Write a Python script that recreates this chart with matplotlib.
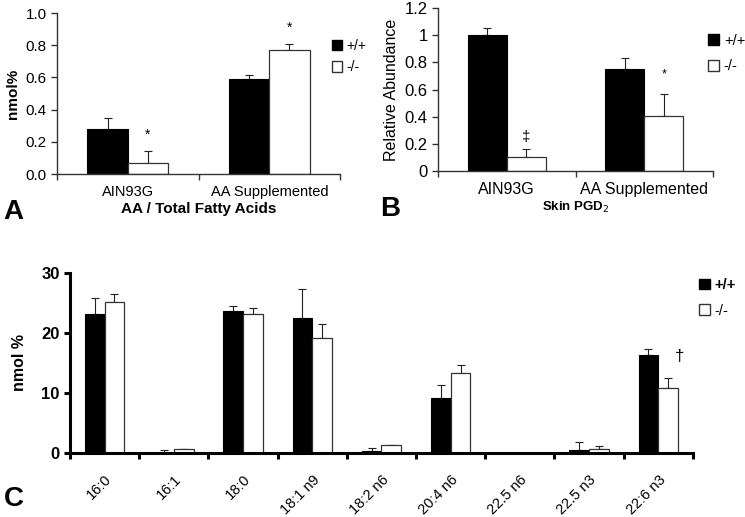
import matplotlib
matplotlib.use("Agg")
import matplotlib.pyplot as plt
import numpy as np
from matplotlib.patches import Patch

plt.rcParams['font.family'] = ['Liberation Sans', 'DejaVu Sans']

# panel A: AA / total fatty acids
a_cats = ["AIN93G", "AA Supplemented"]
a_wt = [0.28, 0.59]
a_wt_err = [0.065, 0.025]
a_ko = [0.07, 0.77]
a_ko_err = [0.07, 0.035]

# panel B: skin PGD2
b_cats = ["AIN93G", "AA Supplemented"]
b_wt = [1.0, 0.75]
b_wt_err = [0.055, 0.08]
b_ko = [0.10, 0.405]
b_ko_err = [0.06, 0.16]

# panel C: fatty acid profile
c_cats = ["16:0", "16:1", "18:0", "18:1 n9", "18:2 n6", "20:4 n6", "22.5 n6", "22.5 n3", "22:6 n3"]
c_wt = [23.2, 0.0, 23.6, 22.5, 0.4, 9.1, 0.0, 0.55, 16.3]
c_wt_err = [2.6, 0.5, 0.9, 4.8, 0.4, 2.2, 0.0, 1.25, 1.0]
c_ko = [25.1, 0.6, 23.2, 19.2, 1.3, 13.3, 0.0, 0.6, 10.8]
c_ko_err = [1.4, 0.0, 1.0, 2.3, 0.0, 1.3, 0.0, 0.55, 1.75]

W = 0.285

fig = plt.figure(figsize=(7.45, 5.17), dpi=100)


def bars(ax, wt, wterr, ko, koerr, lw_axis, col_axis):
    x = np.arange(len(wt))
    ax.bar(x - W / 2, wt, W, color='black', edgecolor='black', linewidth=0.8, zorder=2)
    ax.bar(x + W / 2, ko, W, color='white', edgecolor='#333333', linewidth=0.9, zorder=2)
    z = np.zeros(len(wt))
    ax.errorbar(x - W / 2, wt, yerr=[z, wterr], fmt='none', ecolor='#222222',
                elinewidth=0.8, capsize=3, capthick=0.8, zorder=1)
    ax.errorbar(x + W / 2, ko, yerr=[z, koerr], fmt='none', ecolor='#222222',
                elinewidth=0.8, capsize=3, capthick=0.8, zorder=1)
    ax.set_xlim(-0.5, len(wt) - 0.5)
    for s in ['top', 'right']:
        ax.spines[s].set_visible(False)
    for s in ['left', 'bottom']:
        ax.spines[s].set_linewidth(lw_axis)
        ax.spines[s].set_color(col_axis)
    ax.set_xticks(np.arange(len(wt) + 1) - 0.5, minor=True)
    ax.tick_params(axis='x', which='major', length=0, pad=8)
    ax.tick_params(axis='x', which='minor', length=4, width=lw_axis, color=col_axis)
    ax.tick_params(axis='y', length=4, width=lw_axis, color=col_axis)
    return x


def legend(ax, x, y, size, spacing, bold=False):
    h = [Patch(facecolor='black', edgecolor='black', label='+/+'),
         Patch(facecolor='white', edgecolor='#333333', label='-/-')]
    leg = ax.legend(handles=h, loc='upper left', bbox_to_anchor=(x, y), bbox_transform=fig.transFigure,
                    frameon=False, borderpad=0, borderaxespad=0, handlelength=0.75, handleheight=0.75,
                    handletextpad=0.3, labelspacing=spacing, prop={'size': size})
    if bold:
        leg.get_texts()[0].set_fontweight('bold')


# A
axA = fig.add_axes([0.0765, 0.6634, 0.380, 0.3114])
x = bars(axA, a_wt, a_wt_err, a_ko, a_ko_err, 1.0, '#333333')
axA.set_ylim(0, 1.0)
axA.set_yticks(np.arange(0, 1.01, 0.2))
axA.set_yticklabels([f"{v:.1f}" for v in np.arange(0, 1.01, 0.2)], fontsize=11)
axA.set_xticks(x)
axA.set_xticklabels(a_cats, fontsize=10.5)
axA.set_ylabel("nmol%", fontsize=11, fontweight='bold', labelpad=4)
axA.set_xlabel("AA / Total Fatty Acids", fontsize=11, fontweight='bold', labelpad=2)
axA.text(x[0] + W / 2, a_ko[0] + a_ko_err[0] + 0.06, "*", ha='center', va='bottom', fontsize=10)
axA.text(x[1] + W / 2, a_ko[1] + a_ko_err[1] + 0.06, "*", ha='center', va='bottom', fontsize=10)
legend(axA, 0.445, 0.925, 10, 0.55)
fig.text(0.005, 0.565, "A", fontsize=20, fontweight='bold', va='bottom')

# B
axB = fig.add_axes([0.588, 0.6692, 0.369, 0.3153])
x = bars(axB, b_wt, b_wt_err, b_ko, b_ko_err, 1.0, '#333333')
axB.set_ylim(0, 1.2)
axB.set_yticks(np.arange(0, 1.21, 0.2))
axB.set_yticklabels(["0", "0.2", "0.4", "0.6", "0.8", "1", "1.2"], fontsize=12)
axB.set_xticks(x)
axB.set_xticklabels(b_cats, fontsize=11.5)
axB.set_ylabel("Relative Abundance", fontsize=11.5, labelpad=4)
axB.set_xlabel("Skin PGD$_2$", fontsize=9.5, fontweight='bold', labelpad=2)
axB.text(x[0] + W / 2, b_ko[0] + b_ko_err[0] + 0.04, "\u2021", ha='center', va='bottom', fontsize=11)
axB.text(x[1] + W / 2, b_ko[1] + b_ko_err[1] + 0.1, "*", ha='center', va='bottom', fontsize=9)
legend(axB, 0.951, 0.935, 10.5, 0.8)
fig.text(0.51, 0.57, "B", fontsize=20, fontweight='bold', va='bottom')

# C
axC = fig.add_axes([0.094, 0.1238, 0.836, 0.3482])
x = bars(axC, c_wt, c_wt_err, c_ko, c_ko_err, 2.2, 'black')
axC.set_ylim(0, 30)
axC.set_yticks([0, 10, 20, 30])
axC.set_yticklabels(["0", "10", "20", "30"], fontsize=12, fontweight='bold')
axC.set_xticks(x)
axC.set_xticklabels(c_cats, fontsize=10.5, rotation=45, ha='right', rotation_mode='anchor')
axC.tick_params(axis='x', which='major', pad=14)
axC.set_ylabel("nmol %", fontsize=11.5, fontweight='bold', labelpad=10)
axC.text(x[8] + W * 1.1, c_wt[8] - 1.5, "\u2020", ha='center', va='bottom', fontsize=12)
legend(axC, 0.938, 0.462, 10.5, 0.8, bold=True)
fig.text(0.005, 0.01, "C", fontsize=20, fontweight='bold', va='bottom')

fig.savefig("out.png", dpi=100)
